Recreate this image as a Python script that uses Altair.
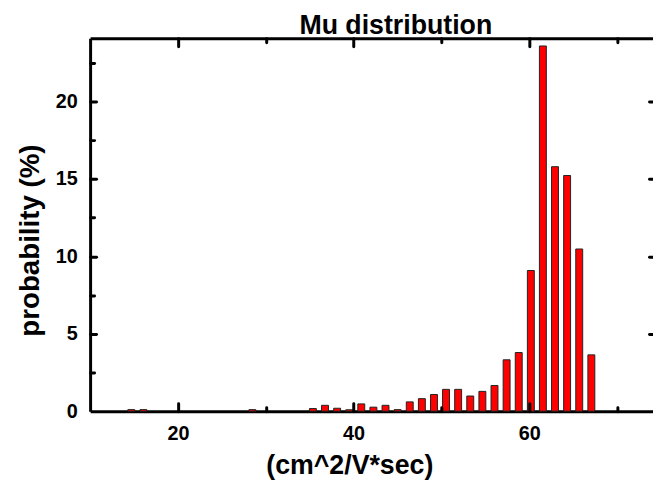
import altair as alt
import pandas as pd

# bin centres (cm^2/V*sec) and probability (%)
mu = [14.69, 16.07, 28.48, 35.37, 36.75, 38.13, 39.51, 40.88, 42.26, 43.64,
      45.02, 46.40, 47.78, 49.16, 50.53, 51.91, 53.29, 54.67, 56.05, 57.43,
      58.81, 60.19, 61.56, 62.94, 64.32, 65.70, 67.08]
prob = [0.10, 0.10, 0.10, 0.17, 0.38, 0.19, 0.09, 0.47, 0.26, 0.38,
        0.10, 0.60, 0.81, 1.08, 1.41, 1.41, 0.98, 1.28, 1.66, 3.32,
        3.79, 9.09, 23.6, 15.8, 15.23, 10.48, 3.64]

x_major = [20, 40, 60]
x_minor = [30, 50, 70]
y_labels = [0, 5, 10, 15, 20]
y_major = [5, 10, 15, 20]
y_minor = [2.5, 7.5, 12.5, 17.5, 22.5]

title_text = ["Mu distribution"]

df = pd.DataFrame({"mu": mu, "prob": prob})

W, H = 569, 377
FONT = "Liberation Sans"

xs = alt.Scale(domain=[10, 74.1], nice=False, zero=False, padding=0)
ys = alt.Scale(domain=[0, 24.1], nice=False, padding=0)

base = alt.Chart(df)


def tick_axis(orient, values, size, offset, domain=False):
    return alt.Axis(orient=orient, values=values, offset=offset, ticks=True,
                    tickSize=size, tickWidth=3, tickColor="black", tickCap="round",
                    labels=False, domain=domain, domainWidth=3, domainColor="black",
                    title=None, grid=False, zindex=1)


bars = base.mark_bar(size=7, color="#ff0000", stroke="#222222", strokeWidth=1).encode(
    x=alt.X("mu:Q", scale=xs, axis=alt.Axis(
        orient="bottom", values=x_major, format="d", ticks=False, tickSize=0,
        domainWidth=3, domainColor="black", grid=False,
        labelFont=FONT, labelFontSize=20, labelFontWeight="bold", labelColor="black",
        labelPadding=13,
        title="(cm^2/V*sec)", titleFont=FONT, titleFontSize=27, titleFontWeight="bold",
        titleColor="black", titleX=262, titleY=63, titleAlign="center",
        titleBaseline="alphabetic")),
    y=alt.Y("prob:Q", scale=ys, axis=alt.Axis(
        orient="left", values=y_labels, format="d", ticks=False, tickSize=0,
        domainWidth=3, domainColor="black", grid=False,
        labelFont=FONT, labelFontSize=20, labelFontWeight="bold", labelColor="black",
        labelPadding=13,
        title="probability (%)", titleFont=FONT, titleFontSize=28, titleFontWeight="bold",
        titleColor="black", titleX=-52, titleY=204, titleAngle=270,
        titleAlign="center", titleBaseline="alphabetic")),
)

l2 = base.mark_point(opacity=0).encode(
    x=alt.X("mu:Q", scale=xs, axis=tick_axis("top", x_major, 8, -H)),
    y=alt.Y("prob:Q", scale=ys, axis=tick_axis("right", y_major, 6, -W)),
)
l3 = base.mark_point(opacity=0).encode(
    x=alt.X("mu:Q", scale=xs, axis=tick_axis("top", x_minor, 4, -H)),
    y=alt.Y("prob:Q", scale=ys, axis=tick_axis("right", y_minor, 4, -W)),
)
l4 = base.mark_point(opacity=0).encode(
    x=alt.X("mu:Q", scale=xs, axis=tick_axis("bottom", x_major, 8, -H, domain=True)),
    y=alt.Y("prob:Q", scale=ys, axis=tick_axis("left", y_major, 4, -W)),
)
l5 = base.mark_point(opacity=0).encode(
    x=alt.X("mu:Q", scale=xs, axis=tick_axis("bottom", x_minor, 4, -H)),
    y=alt.Y("prob:Q", scale=ys, axis=None),
)

title = alt.Chart(pd.DataFrame({"t": title_text})).mark_text(
    font=FONT, fontSize=27, fontWeight="bold", color="black",
    align="center", baseline="alphabetic"
).encode(text="t:N", x=alt.value(309), y=alt.value(-4))

chart = alt.layer(bars, l2, l3, l4, l5, title).resolve_axis(
    x="independent", y="independent"
).properties(
    width=W, height=H,
    autosize=alt.AutoSizeParams(type="none"),
    padding={"left": 83, "top": 28, "right": 0, "bottom": 67},
).configure_view(stroke=None)

chart.save("out.html", embed_options={"renderer": "svg", "actions": False})
